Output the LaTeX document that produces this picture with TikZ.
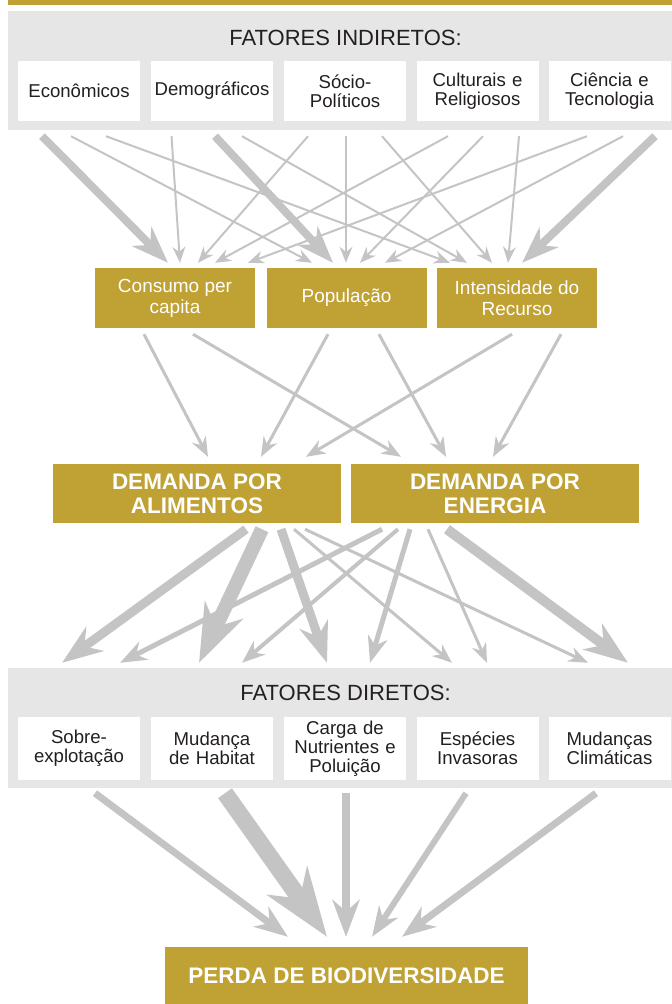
\documentclass[tikz,border=0pt]{standalone}
\usepackage{fontspec}
\setmainfont{Liberation Sans}
\usetikzlibrary{arrows.meta}
\definecolor{gold}{HTML}{C0A133}
\definecolor{panelgray}{HTML}{E6E6E6}
\definecolor{arrowgray}{HTML}{C4C4C4}
\definecolor{ink}{HTML}{231F20}

\tikzset{
  panel/.style={rectangle,fill=panelgray,minimum width=664pt,minimum height=119pt,inner sep=0pt},
  paneltitle/.style={text=ink,inner sep=0pt,font=\fontsize{22}{24}\selectfont},
  factorbox/.style={rectangle,fill=white,minimum width=122pt,minimum height=60pt,text width=120pt,align=center,inner sep=0pt,text=ink,font=\fontsize{18.6}{19}\selectfont},
  drivebox/.style={rectangle,fill=gold,minimum width=160pt,minimum height=60pt,align=center,inner sep=0pt,text=white,font=\fontsize{19}{21}\selectfont},
  demandbox/.style={rectangle,fill=gold,minimum width=288pt,minimum height=59pt,align=center,inner sep=0pt,text=white,font=\fontsize{22.5}{24}\selectfont\bfseries},
  flow/.style={draw=arrowgray,line width=#1,-{Stealth[length=9pt 3.5,width=8pt 2.4,inset=3pt 1.1]}}
}

\begin{document}
\begin{tikzpicture}[x=1pt,y=-1pt]
\useasboundingbox (0,0) rectangle (672,1004);
\fill[gold] (8,0) rectangle (672,5);
\node[panel] (indpanel) at (340,70.5) {};
\node[paneltitle] (indtitle) at (345.5,38) {FATORES INDIRETOS:};
\node[factorbox] (eco) at (79,91) {Econômicos};
\node[factorbox] (dem) at (212,91) {Demográficos};
\node[factorbox] (soc) at (345,91) {Sócio-\\Políticos};
\node[factorbox] (cul) at (477.5,91) {Culturais e\\Religiosos};
\node[factorbox] (cie) at (609.5,91) {Ciência e\\Tecnologia};

\node[drivebox] (cons) at (175,298) {Consumo per\\capita};
\node[drivebox] (pop) at (346.5,298) {População};
\node[drivebox] (intens) at (517,298) {Intensidade do\\Recurso};

\node[demandbox] (alim) at (197,493.5) {DEMANDA POR\\ALIMENTOS};
\node[demandbox] (ener) at (495,493.5) {DEMANDA POR\\ENERGIA};

\node[panel,minimum height=120pt] (dirpanel) at (340,728) {};
\node[paneltitle] (dirtitle) at (345.5,693) {FATORES DIRETOS:};
\node[factorbox,minimum height=63pt] (sob) at (79,748.5) {Sobre-\\explotação};
\node[factorbox,minimum height=63pt] (hab) at (212,748.5) {Mudança\\de Habitat};
\node[factorbox,minimum height=63pt] (carga) at (345,748.5) {Carga de\\Nutrientes e\\Poluição};
\node[factorbox,minimum height=63pt] (esp) at (477.5,748.5) {Espécies\\Invasoras};
\node[factorbox,minimum height=63pt] (clim) at (609.5,748.5) {Mudanças\\Climáticas};

\node[demandbox,minimum width=363pt,minimum height=57pt] (perda) at (346.5,975.5) {PERDA DE BIODIVERSIDADE};

\draw[flow=8pt] ([xshift=-37pt,yshift=-15pt]eco.south) -- ([xshift=-7pt,yshift=5pt]cons.north);
\draw[flow=2pt] ([xshift=-8pt,yshift=-15pt]eco.south) -- ([xshift=-34.5pt,yshift=5pt]pop.north);
\draw[flow=2pt] ([xshift=27pt,yshift=-15pt]eco.south) -- ([xshift=-67pt,yshift=5pt]intens.north);
\draw[flow=2pt] ([xshift=-40.5pt,yshift=-15pt]dem.south) -- ([xshift=5pt,yshift=5pt]cons.north);
\draw[flow=8pt] ([xshift=3pt,yshift=-15pt]dem.south) -- ([xshift=-13.5pt,yshift=5pt]pop.north);
\draw[flow=2pt] ([xshift=30pt,yshift=-15pt]dem.south) -- ([xshift=-50pt,yshift=5pt]intens.north);
\draw[flow=2pt] ([xshift=-37pt,yshift=-15pt]soc.south) -- ([xshift=23pt,yshift=5pt]cons.north);
\draw[flow=2pt] ([xshift=1pt,yshift=-15pt]soc.south) -- ([xshift=-0.5pt,yshift=5pt]pop.north);
\draw[flow=2pt] ([xshift=37pt,yshift=-15pt]soc.south) -- ([xshift=-25pt,yshift=5pt]intens.north);
\draw[flow=2pt] ([xshift=-29.5pt,yshift=-15pt]cul.south) -- ([xshift=40pt,yshift=5pt]cons.north);
\draw[flow=2pt] ([xshift=5.5pt,yshift=-15pt]cul.south) -- ([xshift=13.5pt,yshift=5pt]pop.north);
\draw[flow=2pt] ([xshift=41.5pt,yshift=-15pt]cul.south) -- ([xshift=-9pt,yshift=5pt]intens.north);
\draw[flow=2pt] ([xshift=-22.5pt,yshift=-15pt]cie.south) -- ([xshift=73pt,yshift=5pt]cons.north);
\draw[flow=2pt] ([xshift=13.5pt,yshift=-15pt]cie.south) -- ([xshift=38.5pt,yshift=5pt]pop.north);
\draw[flow=8pt] ([xshift=45.5pt,yshift=-15pt]cie.south) -- ([xshift=5pt,yshift=5pt]intens.north);

\draw[flow=3pt] ([xshift=-31pt,yshift=-6pt]cons.south) -- ([xshift=11pt,yshift=7pt]alim.north);
\draw[flow=3pt] ([xshift=18pt,yshift=-6pt]cons.south) -- ([xshift=-94pt,yshift=7pt]ener.north);
\draw[flow=3pt] ([xshift=-18.5pt,yshift=-6pt]pop.south) -- ([xshift=64pt,yshift=7pt]alim.north);
\draw[flow=3pt] ([xshift=32.5pt,yshift=-6pt]pop.south) -- ([xshift=-49pt,yshift=7pt]ener.north);
\draw[flow=3pt] ([xshift=-5pt,yshift=-6pt]intens.south) -- ([xshift=109pt,yshift=7pt]alim.north);
\draw[flow=3pt] ([xshift=44pt,yshift=-6pt]intens.south) -- ([xshift=-2pt,yshift=7pt]ener.north);

\draw[flow=9pt] ([xshift=49pt,yshift=-6pt]alim.south) -- ([xshift=-17pt,yshift=54pt]sob.north);
\draw[flow=14pt] ([xshift=65pt,yshift=-6pt]alim.south) -- ([xshift=-13pt,yshift=54pt]hab.north);
\draw[flow=9pt] ([xshift=84pt,yshift=-6pt]alim.south) -- ([xshift=-18pt,yshift=54pt]carga.north);
\draw[flow=3pt] ([xshift=97pt,yshift=-6pt]alim.south) -- ([xshift=-25.5pt,yshift=54pt]esp.north);
\draw[flow=3pt] ([xshift=108pt,yshift=-6pt]alim.south) -- ([xshift=-21.5pt,yshift=54pt]clim.north);
\draw[flow=5pt] ([xshift=-113pt,yshift=-6pt]ener.south) -- ([xshift=41pt,yshift=54pt]sob.north);
\draw[flow=4pt] ([xshift=-97pt,yshift=-6pt]ener.south) -- ([xshift=30pt,yshift=54pt]hab.north);
\draw[flow=5pt] ([xshift=-85pt,yshift=-6pt]ener.south) -- ([xshift=25pt,yshift=54pt]carga.north);
\draw[flow=3pt] ([xshift=-67pt,yshift=-6pt]ener.south) -- ([xshift=9.5pt,yshift=54pt]esp.north);
\draw[flow=10pt] ([xshift=-48pt,yshift=-6pt]ener.south) -- ([xshift=18.5pt,yshift=54pt]clim.north);

\draw[flow=7pt] ([xshift=16pt,yshift=-13pt]sob.south) -- ([xshift=-58.5pt,yshift=10pt]perda.north);
\draw[flow=17pt] ([xshift=13pt,yshift=-13pt]hab.south) -- ([xshift=-19.5pt,yshift=10pt]perda.north);
\draw[flow=8pt] ([xshift=1pt,yshift=-13pt]carga.south) -- ([xshift=-0.5pt,yshift=10pt]perda.north);
\draw[flow=6pt] ([xshift=-11.5pt,yshift=-13pt]esp.south) -- ([xshift=25.5pt,yshift=10pt]perda.north);
\draw[flow=7pt] ([xshift=-13.5pt,yshift=-13pt]clim.south) -- ([xshift=55.5pt,yshift=10pt]perda.north);
\end{tikzpicture}
\end{document}
